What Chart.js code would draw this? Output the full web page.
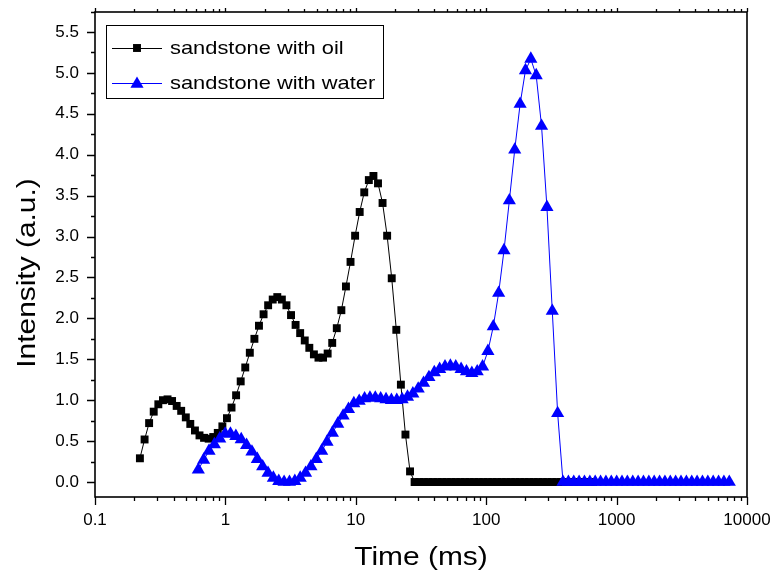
<!DOCTYPE html>
<html>
<head>
<meta charset="utf-8">
<script src="https://cdn.jsdelivr.net/npm/chart.js@4.4.1/dist/chart.umd.min.js"></script>
<style>
html, body { margin: 0; padding: 0; background: #fff; }
#wrap { width: 774px; height: 575px; }
</style>
</head>
<body>
<div id="wrap"><canvas id="c" width="774" height="575"></canvas></div>
<script>
/* ---- data (time in ms, intensity in a.u.) ---- */
var OIL_T = [0.221,0.240,0.260,0.282,0.306,0.332,0.360,0.390,0.423,0.458,
             0.497,0.538,0.584,0.633,0.686,0.744,0.807,0.874,0.948,1.028,
             1.114,1.208,1.310,1.420,1.539,1.669,1.809,1.962,2.127,2.306,
             2.500,2.710,2.938,3.186,3.454,3.744,4.060,4.401,4.772,5.173,
             5.610,6.082,6.594,7.149,7.750,8.403,9.111,9.879,10.71,11.61,
             12.59,13.65,14.80,16.04,17.39,18.86,20.45,22.17,24.03,26.06,
             28.25,30.63,33.21,36.00,39.03,42.32,45.88,49.75,53.93,58.48,
             63.39,68.73,74.52,80.79,87.59,94.95,102.9,111.6,121.0,131.2,
             142.2,154.2,167.2,181.3,196.5,213.1,231.0,250.4,271.5,294.4,
             319.2,346.0,375.2,406.8,441.0,478.1,518.4,562.0,609.3,660.6];
var OIL_I = [0.29,0.52,0.72,0.86,0.95,1.00,1.01,0.99,0.93,0.87,
             0.79,0.71,0.63,0.57,0.54,0.53,0.55,0.60,0.68,0.78,
             0.91,1.06,1.23,1.40,1.58,1.75,1.91,2.05,2.16,2.23,
             2.26,2.23,2.16,2.04,1.92,1.82,1.73,1.64,1.56,1.52,
             1.52,1.57,1.70,1.88,2.10,2.39,2.69,3.01,3.30,3.54,
             3.69,3.74,3.65,3.41,3.01,2.49,1.86,1.19,0.58,0.13,
             0,0,0,0,0,0,0,0,0,0,
             0,0,0,0,0,0,0,0,0,0,
             0,0,0,0,0,0,0,0,0,0,
             0,0,0,0,0,0,0,0,0,0];

var WATER_T = [0.620,0.681,0.749,0.823,0.905,0.995,1.094,1.203,1.322,1.454,
               1.598,1.757,1.931,2.123,2.333,2.566,2.820,3.100,3.408,3.747,
               4.119,4.528,4.978,5.472,6.016,6.614,7.271,7.993,8.787,9.660,
               10.62,11.68,12.84,14.11,15.51,17.06,18.75,20.61,22.66,24.91,
               27.38,30.10,33.10,36.38,40.00,43.97,48.33,53.13,58.41,64.21,
               70.59,77.60,85.31,93.78,103.1,113.3,124.6,136.9,150.5,165.5,
               182.0,200.0,219.9,241.8,265.8,292.2,321.2,353.1,388.2,426.8,
               469.2,515.8,567.0,623.4,685.3,753.4,828.2,910.4,1001,1100,
               1209,1330,1462,1607,1767,1942,2135,2347,2580,2837,
               3118,3428,3769,4143,4555,5007,5505,6051,6652,7312];
var WATER_I = [0.15,0.27,0.38,0.46,0.53,0.59,0.59,0.56,0.52,0.45,
               0.37,0.28,0.19,0.11,0.05,0.01,0.00,0.00,0.01,0.05,
               0.11,0.19,0.28,0.38,0.49,0.60,0.71,0.81,0.89,0.96,
               0.99,1.02,1.03,1.03,1.02,1.01,1.00,1.00,1.01,1.04,
               1.08,1.14,1.21,1.28,1.34,1.38,1.41,1.42,1.41,1.38,
               1.35,1.33,1.35,1.41,1.60,1.90,2.31,2.83,3.44,4.06,
               4.62,5.03,5.17,4.97,4.35,3.36,2.09,0.84,0,0,
               0,0,0,0,0,0,0,0,0,0,
               0,0,0,0,0,0,0,0,0,0,
               0,0,0,0,0,0,0,0,0,0];

var SERIES_NAMES = ['sandstone with oil', 'sandstone with water'];
var X_TITLE = 'Time (ms)';
var Y_TITLE = 'Intensity (a.u.)';
var X_TICKS = [0.1, 1, 10, 100, 1000, 10000];
var Y_TICKS = [0, 0.5, 1, 1.5, 2, 2.5, 3, 3.5, 4, 4.5, 5, 5.5];

var FONT = '"Liberation Sans", Arial, sans-serif';

function toPoints(t, v) {
    return t.map(function(x, i) { return { x: x, y: v[i] }; });
}

// wide text like the original export
function wideText(ctx, txt, x, y, size, rot) {
    ctx.save();
    ctx.translate(x, y);
    if (rot) ctx.rotate(rot);
    ctx.scale(1.15, 1);
    ctx.font = size + 'px ' + FONT;
    ctx.fillStyle = '#000';
    ctx.textBaseline = 'middle';
    ctx.fillText(txt, 0, 0);
    ctx.restore();
}

/* ---- frame, tick marks (log minors), axis titles, legend ---- */
var framePlugin = {
    id: 'frame',
    afterDraw: function(chart) {
        var ctx = chart.ctx, a = chart.chartArea;
        var xs = chart.scales.x, ys = chart.scales.y;
        ctx.save();
        ctx.strokeStyle = '#000';
        ctx.lineWidth = 1.6;
        ctx.strokeRect(a.left, a.top, a.right - a.left, a.bottom - a.top);

        ctx.lineWidth = 1.3;
        ctx.beginPath();
        X_TICKS.forEach(function(d, k) {
            var px = Math.round(xs.getPixelForValue(d)) + 0.5;
            ctx.moveTo(px, a.bottom); ctx.lineTo(px, a.bottom + 8);
            ctx.moveTo(px, a.top);    ctx.lineTo(px, a.top - 4);
            if (k === X_TICKS.length - 1) return;
            for (var m = 2; m <= 9; m++) {
                var p = Math.round(xs.getPixelForValue(d * m)) + 0.5;
                ctx.moveTo(p, a.bottom); ctx.lineTo(p, a.bottom + 4);
                ctx.moveTo(p, a.top);    ctx.lineTo(p, a.top - 3);
            }
        });
        Y_TICKS.forEach(function(v) {
            var py = Math.round(ys.getPixelForValue(v)) + 0.5;
            ctx.moveTo(a.left, py); ctx.lineTo(a.left - 8, py);
            var pm = Math.round(ys.getPixelForValue(v + 0.25)) + 0.5;
            ctx.moveTo(a.left, pm); ctx.lineTo(a.left - 4, pm);
        });
        ctx.stroke();

        // axis titles
        ctx.textAlign = 'center';
        wideText(ctx, X_TITLE, (a.left + a.right) / 2 / 1.0, 558, 26, 0);
        ctx.textAlign = 'center';
        wideText(ctx, Y_TITLE, 28, 273, 26, -Math.PI / 2);

        // legend
        var bx = 106, by = 25, bw = 277, bh = 73;
        ctx.lineWidth = 1;
        ctx.strokeStyle = '#000';
        ctx.fillStyle = '#fff';
        ctx.fillRect(bx, by, bw, bh);
        ctx.strokeRect(bx + 0.5, by + 0.5, bw, bh);
        var rows = [48, 83];
        chart.data.datasets.slice().sort(function(p, q) { return p.legendIndex - q.legendIndex; })
            .forEach(function(ds, i) {
                var y = rows[i];
                ctx.strokeStyle = ds.borderColor;
                ctx.lineWidth = 1;
                ctx.beginPath();
                ctx.moveTo(112, y + 0.5); ctx.lineTo(162, y + 0.5);
                ctx.stroke();
                ctx.fillStyle = ds.pointBackgroundColor;
                Chart.helpers.drawPoint(ctx, {
                    pointStyle: ds.pointStyle, radius: ds.pointRadius,
                    borderWidth: 0, rotation: 0
                }, 137, y + (ds.pointStyle === 'triangle' ? 1 : 0));
                ctx.textAlign = 'left';
                wideText(ctx, ds.label, 170, y + 1, 19, 0);
            });
        ctx.restore();
    }
};

var chart = new Chart(document.getElementById('c'), {
    type: 'line',
    data: {
        datasets: [
            {
                label: SERIES_NAMES[1], legendIndex: 1, order: 0,
                data: toPoints(WATER_T, WATER_I),
                borderColor: '#0000ff', borderWidth: 1,
                pointStyle: 'triangle', pointRadius: 7.6,
                pointBackgroundColor: '#0000ff', pointBorderWidth: 0,
                pointHoverRadius: 7.6
            },
            {
                label: SERIES_NAMES[0], legendIndex: 0, order: 1,
                data: toPoints(OIL_T, OIL_I),
                borderColor: '#000000', borderWidth: 1,
                pointStyle: 'rect', pointRadius: 5.6,
                pointBackgroundColor: '#000000', pointBorderWidth: 0,
                pointHoverRadius: 5.6
            }
        ]
    },
    options: {
        responsive: false, animation: false, devicePixelRatio: 1,
        layout: { padding: { top: 12, right: 27, left: 0, bottom: 0 } },
        plugins: { legend: { display: false }, tooltip: { enabled: false } },
        elements: { line: { tension: 0 } },
        scales: {
            x: {
                type: 'logarithmic', min: 0.1, max: 10000,
                grid: { display: false, drawTicks: false },
                border: { display: false },
                afterBuildTicks: function(s) { s.ticks = X_TICKS.map(function(v) { return { value: v }; }); },
                afterFit: function(s) { s.height = 78; s.paddingLeft = 0; s.paddingRight = 0; },
                ticks: {
                    autoSkip: false, maxRotation: 0, padding: 13, color: '#000',
                    font: { family: FONT, size: 17 },
                    callback: function(v) { return String(v); }
                }
            },
            y: {
                min: -0.183, max: 5.744,
                grid: { display: false, drawTicks: false },
                border: { display: false },
                afterBuildTicks: function(s) { s.ticks = Y_TICKS.map(function(v) { return { value: v }; }); },
                afterFit: function(s) { s.width = 95; s.paddingTop = 0; s.paddingBottom = 0; },
                ticks: {
                    autoSkip: false, padding: 16, color: '#000',
                    font: { family: FONT, size: 17 },
                    callback: function(v) { return v.toFixed(1); }
                }
            }
        }
    },
    plugins: [framePlugin]
});
</script>
</body>
</html>
